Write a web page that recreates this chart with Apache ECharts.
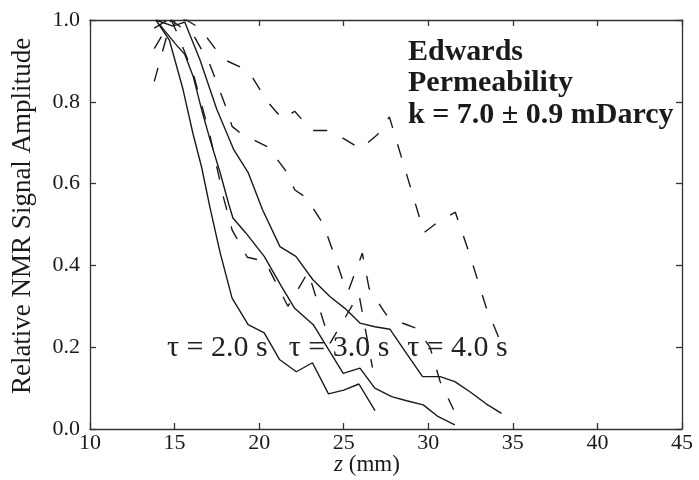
<!DOCTYPE html>
<html>
<head>
<meta charset="utf-8">
<script src="https://cdn.jsdelivr.net/npm/echarts@6/dist/echarts.min.js"></script>
<style>html,body{margin:0;padding:0;background:#fff}#c{width:699px;height:480px}</style>
</head>
<body>
<div id="c"></div>
<script>
// Measured curves: [z (mm), relative amplitude]
var solid20 = [[13.9,1.0],[14.7,0.95],[15.5,0.83],[16.1,0.72],[16.6,0.64],[17.1,0.54],[17.7,0.43],[18.4,0.32],[19.35,0.255],[20.3,0.235],[21.2,0.17],[22.2,0.14],[23.15,0.162],[24.1,0.086],[25.0,0.095],[25.9,0.11],[26.85,0.045]];
var solid30 = [[14.1,0.99],[15.0,0.944],[15.6,0.916],[16.1,0.862],[16.6,0.781],[17.1,0.707],[17.7,0.626],[18.2,0.55],[18.45,0.516],[19.2,0.48],[20.3,0.422],[21.3,0.35],[22.1,0.295],[23.2,0.255],[24.97,0.136],[25.96,0.149],[26.84,0.10],[27.83,0.079],[28.72,0.069],[29.7,0.059],[30.59,0.03],[31.57,0.01]];
var solid40 = [[13.9,1.0],[14.9,0.985],[15.6,0.995],[16.5,0.903],[17.5,0.781],[18.5,0.683],[19.35,0.627],[20.2,0.536],[21.23,0.446],[22.17,0.422],[23.18,0.365],[24.18,0.324],[25.07,0.295],[25.96,0.259],[26.84,0.25],[27.73,0.244],[28.71,0.185],[29.66,0.128],[30.7,0.128],[31.57,0.116],[32.46,0.091],[33.44,0.061],[34.33,0.038]];
var dashed20 = [[13.8,0.85],[14.8,1.0],[15.1,0.973],[16.1,0.87],[17.1,0.716],[17.9,0.565],[18.4,0.487],[19.3,0.42],[20.35,0.41],[21.7,0.30],[22.9,0.384],[24.2,0.21],[25.9,0.33],[26.7,0.15]];
var dashed30 = [[13.8,0.93],[14.8,1.0],[16.2,0.957],[17.1,0.89],[18.1,0.78],[18.4,0.74],[19.0,0.72],[20.5,0.69],[21.6,0.63],[22.1,0.585],[22.8,0.565],[23.8,0.50],[24.4,0.43],[25.0,0.357],[25.25,0.335],[26.1,0.43],[26.5,0.344],[27.5,0.28],[28.4,0.26],[29.3,0.246],[30.1,0.2],[30.7,0.116],[31.5,0.047]];
var dashed40 = [[13.8,0.98],[14.6,1.0],[15.7,1.0],[16.5,0.98],[17.4,0.93],[18.1,0.9],[18.9,0.885],[19.6,0.86],[20.5,0.80],[21.4,0.757],[22.1,0.777],[23.1,0.73],[24.0,0.73],[25.0,0.71],[26.0,0.685],[27.0,0.72],[27.7,0.763],[29.75,0.48],[30.7,0.51],[31.6,0.53],[32.5,0.42],[33.4,0.30],[34.3,0.21]];
var xTicks = [10,15,20,25,30,35,40,45];
var yTicks = [0.0,0.2,0.4,0.6,0.8,1.0];
var tauLabels = [['τ = 2.0 s',14.55,0.198],['τ = 3.0 s',21.75,0.198],['τ = 4.0 s',28.75,0.198]];
var noteLines = ['Edwards','Permeability','k = 7.0 ± 0.9 mDarcy'];
var yName = 'Relative NMR Signal Amplitude';

var FONT = '"Liberation Serif","DejaVu Serif",serif';
var INK = '#1a1a1a';
var chart = echarts.init(document.getElementById('c'), null, {renderer:'canvas'});
function line(name, data, dashed){
  return {name:name,type:'line',data:data,symbol:'none',smooth:false,animation:false,
    lineStyle:{color:INK,width:1.4,type:dashed?[14,17]:'solid'},z:3};
}
var series = [
  line('s20',solid20,false),line('s30',solid30,false),line('s40',solid40,false),
  line('d20',dashed20,true),line('d30',dashed30,true),line('d40',dashed40,true)
];
series.push({type:'scatter',data:tauLabels.map(function(t){return {value:[t[1],t[2]],label:{formatter:t[0]}};}),
  symbolSize:0,silent:true,animation:false,itemStyle:{opacity:1},
  label:{show:true,position:'right',distance:0,color:'#222',opacity:1,fontFamily:FONT,fontSize:30}});
var axisCommon = {
  axisLine:{show:true,onZero:false,lineStyle:{color:'#333',width:1.3}},
  axisTick:{show:true,inside:true,length:6,lineStyle:{color:'#333',width:1.3}},
  splitLine:{show:false}
};
chart.setOption({
  animation:false,
  grid:{left:90,right:17,top:20,bottom:51},
  xAxis:[
    Object.assign({type:'value',min:10,max:45,interval:5,position:'bottom',
      axisLabel:{fontFamily:FONT,fontSize:22,color:INK,margin:3,formatter:function(v){return String(v);}}},axisCommon),
    Object.assign({type:'value',min:10,max:45,interval:5,position:'top',axisLabel:{show:false}},axisCommon)
  ],
  yAxis:[
    Object.assign({type:'value',min:0,max:1,interval:0.2,position:'left',
      axisLabel:{fontFamily:FONT,fontSize:22,color:INK,margin:10,formatter:function(v){return v.toFixed(1);}}},axisCommon),
    Object.assign({type:'value',min:0,max:1,interval:0.2,position:'right',axisLabel:{show:false}},axisCommon)
  ],
  graphic:[
    {type:'text',left:408,top:36,style:{text:noteLines.join('\n'),fontFamily:FONT,fontSize:30,fontWeight:'bold',fill:INK,lineHeight:31.5}},
    {type:'text',x:23,y:216,rotation:Math.PI/2,style:{text:yName,fontFamily:FONT,fontSize:27,fill:INK,textAlign:'center',textVerticalAlign:'middle'}},
    {type:'text',x:367,y:465,style:{text:'{i|z} (mm)',fontFamily:FONT,fontSize:23,fill:INK,textAlign:'center',textVerticalAlign:'middle',
      rich:{i:{fontFamily:FONT,fontSize:23,fontStyle:'italic',fill:INK}}}}
  ],
  series:series
});
</script>
</body>
</html>
